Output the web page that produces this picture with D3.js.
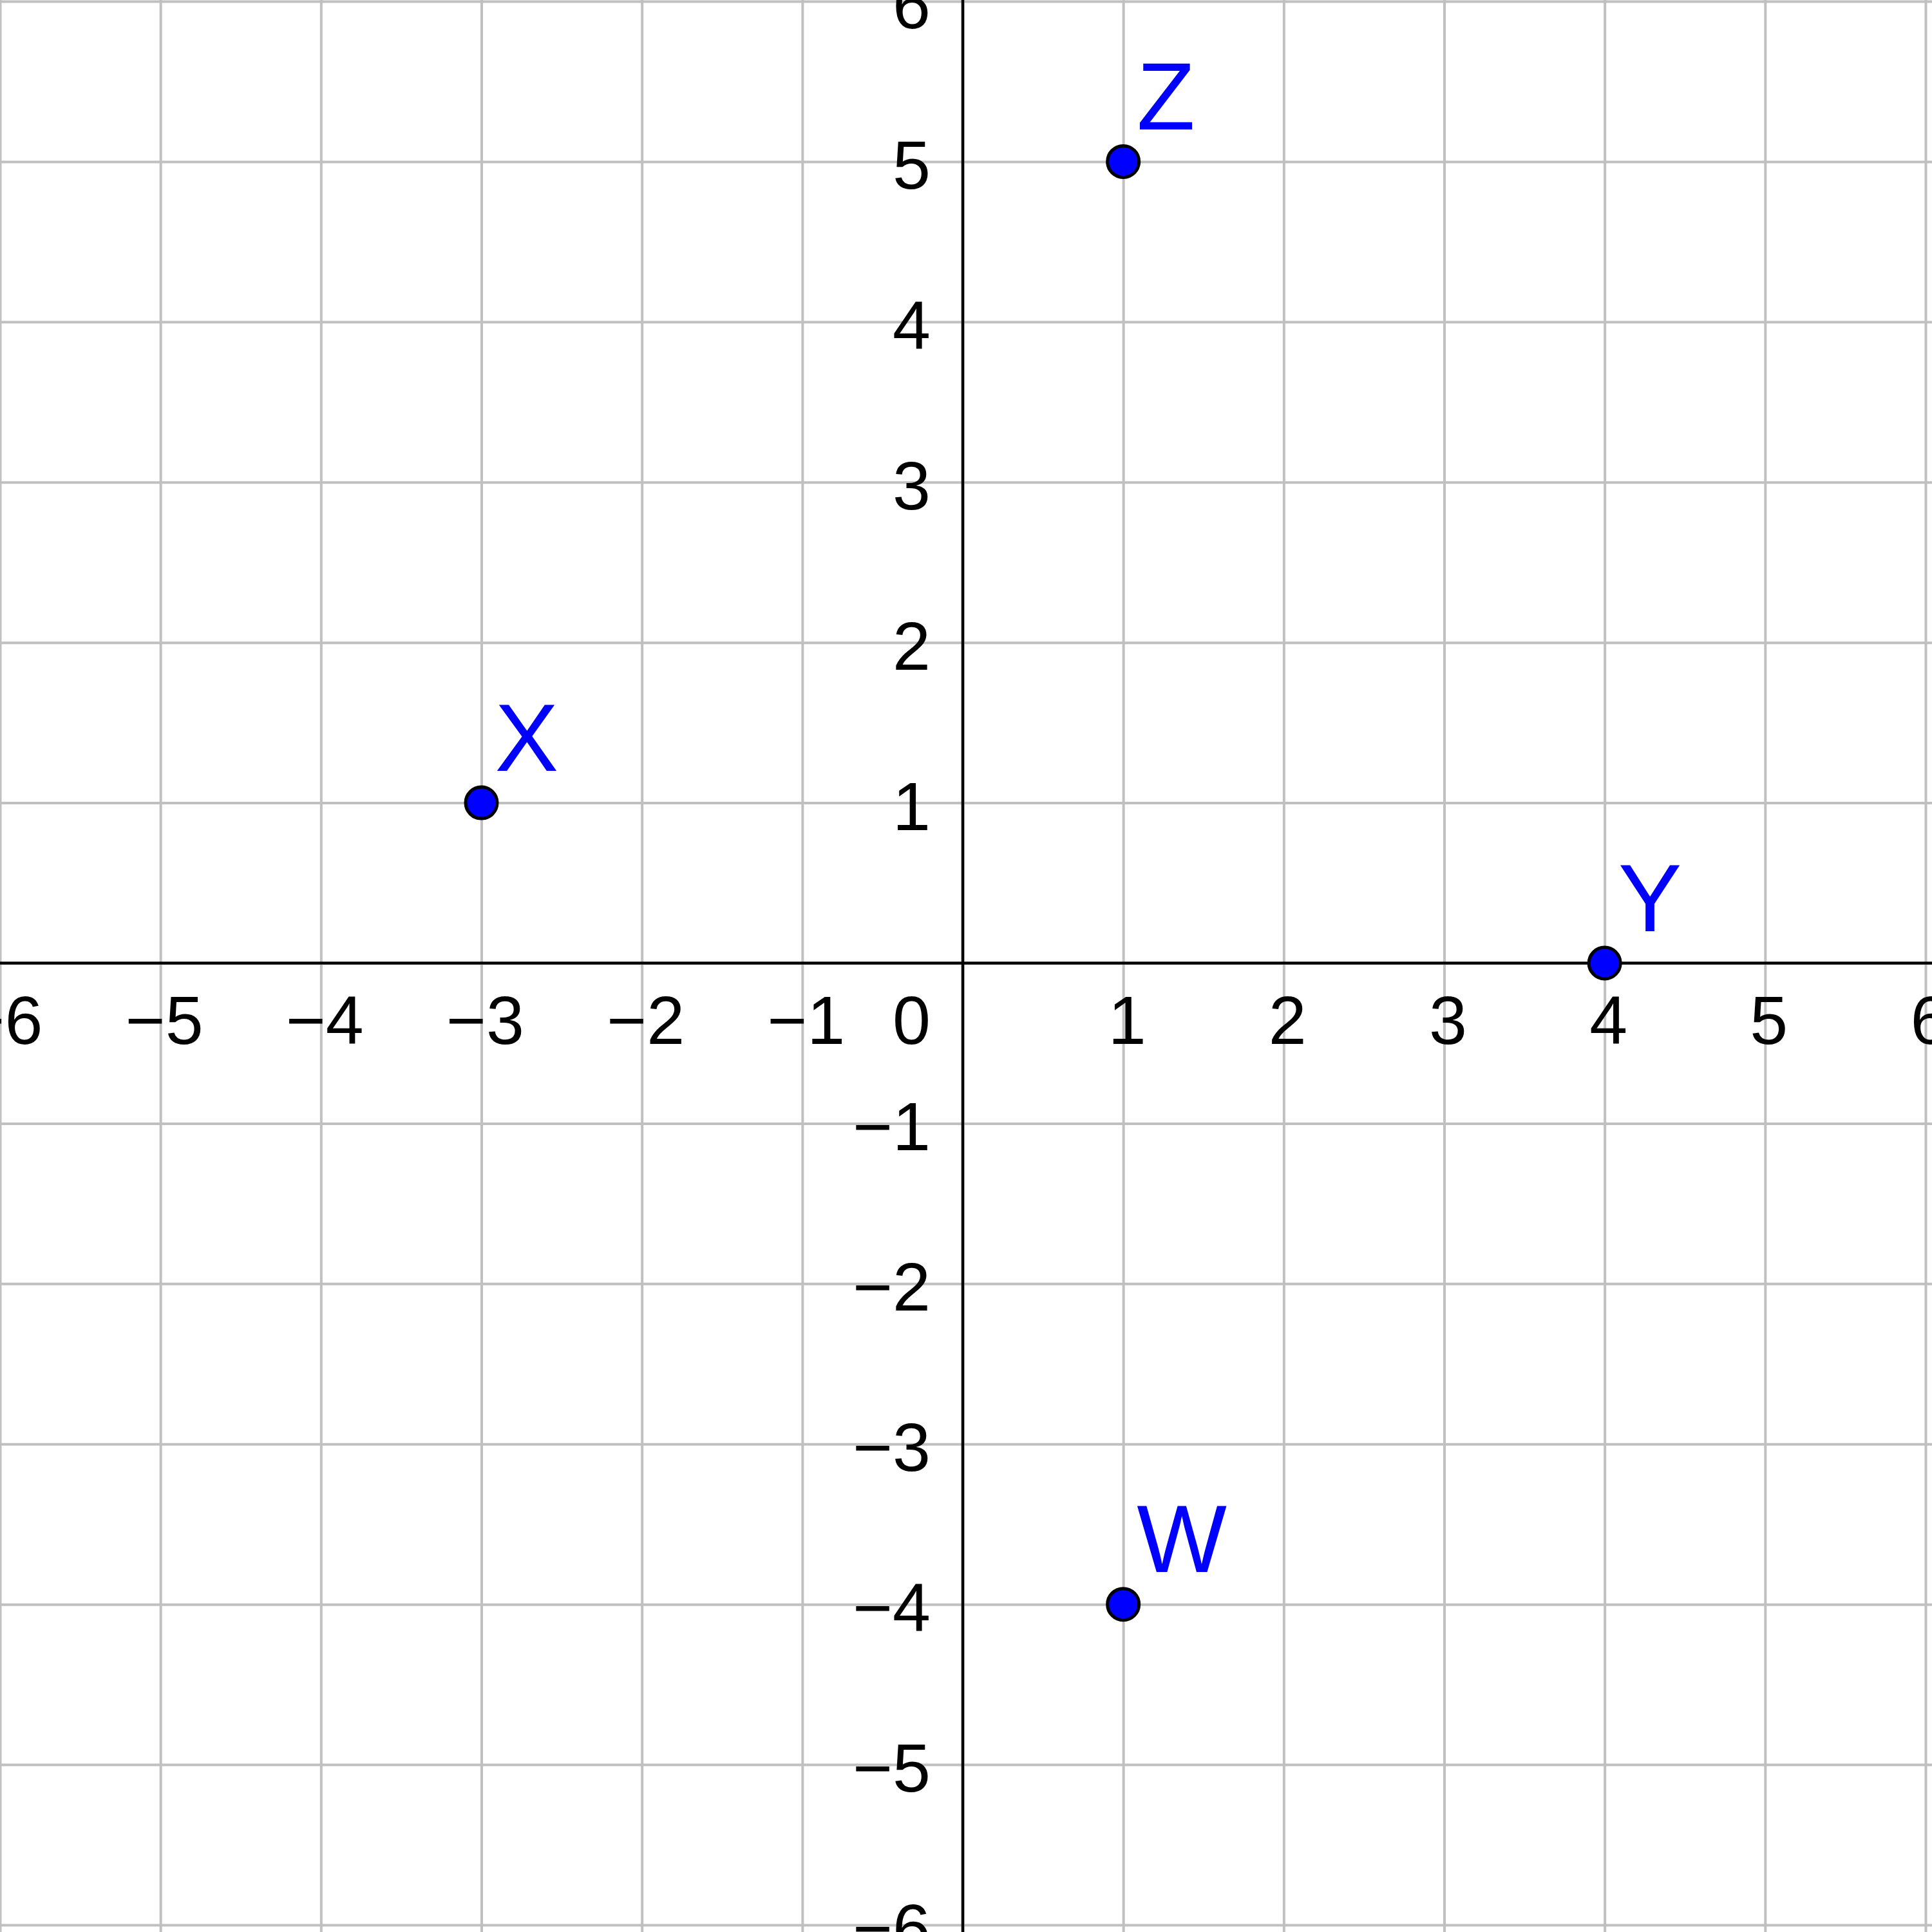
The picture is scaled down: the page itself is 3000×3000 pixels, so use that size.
<!DOCTYPE html>
<html>
<head>
<meta charset="utf-8">
<script src="https://cdn.jsdelivr.net/npm/d3@7"></script>
<style>
  body { margin: 0; background: #fff; }
  text { font-family: "Liberation Sans", Arial, sans-serif; }
</style>
</head>
<body>
<div id="chart"></div>
<script>
// values
let xTicks = [-6, -5, -4, -3, -2, -1, 1, 2, 3, 4, 5, 6];
let yTicks = [-6, -5, -4, -3, -2, -1, 1, 2, 3, 4, 5, 6];
let gridValues = [-6, -5, -4, -3, -2, -1, 0, 1, 2, 3, 4, 5, 6];
let pointNames = ["X", "Y", "Z", "W"];
let pointX = [-3, 4, 1, 1];
let pointY = [1, 0, 5, -4];

let width = 3000, height = 3000;

let svg = d3.select("#chart").append("svg")
    .attr("width", width)
    .attr("height", height);

svg.append("rect")
    .attr("width", width)
    .attr("height", height)
    .attr("fill", "#fff");

// Scales
let x = d3.scaleLinear().domain([-6, 6]).range([0, 2990]);
let y = d3.scaleLinear().domain([-6, 6]).range([2989, 2]);

let fmt = v => (v < 0 ? "\u2212" + Math.abs(v) : String(v));

// Grid, drawn with axes
let xGrid = d3.axisBottom(x).tickValues(gridValues).tickSize(height).tickFormat("");
let yGrid = d3.axisLeft(y).tickValues(gridValues).tickSize(-width).tickFormat("");

svg.append("g")
    .attr("class", "grid x-grid")
    .call(xGrid)
    .call(g => g.select(".domain").remove());
svg.append("g")
    .attr("class", "grid y-grid")
    .call(yGrid)
    .call(g => g.select(".domain").remove());
svg.selectAll(".grid line")
    .attr("stroke", "#c0c0c0")
    .attr("stroke-width", 4);

// Main axes
svg.append("line")
    .attr("x1", 0).attr("x2", width)
    .attr("y1", y(0)).attr("y2", y(0))
    .attr("stroke", "#000").attr("stroke-width", 4.5);
svg.append("line")
    .attr("x1", x(0)).attr("x2", x(0))
    .attr("y1", 0).attr("y2", height)
    .attr("stroke", "#000").attr("stroke-width", 4.5);

// Tick labels
svg.append("g").selectAll("text")
    .data(xTicks)
    .enter().append("text")
    .attr("x", d => x(d) + 6)
    .attr("y", y(0) + 125)
    .attr("text-anchor", "middle")
    .attr("font-size", 106)
    .attr("fill", "#000")
    .text(fmt);

svg.append("g").selectAll("text")
    .data(yTicks)
    .enter().append("text")
    .attr("x", x(0) - 50)
    .attr("y", d => y(d) + 42)
    .attr("text-anchor", "end")
    .attr("font-size", 106)
    .attr("fill", "#000")
    .text(fmt);

svg.append("text")
    .attr("x", x(0) - 50)
    .attr("y", y(0) + 125)
    .attr("text-anchor", "end")
    .attr("font-size", 106)
    .attr("fill", "#000")
    .text("0");

// Points
let points = pointNames.map((n, i) => ({name: n, x: pointX[i], y: pointY[i]}));

svg.append("g").selectAll("circle")
    .data(points)
    .enter().append("circle")
    .attr("cx", d => x(d.x))
    .attr("cy", d => y(d.y))
    .attr("r", 24.5)
    .attr("fill", "#0000ff")
    .attr("stroke", "#000")
    .attr("stroke-width", 5);

svg.append("g").selectAll("text")
    .data(points)
    .enter().append("text")
    .attr("x", d => x(d.x) + 21)
    .attr("y", d => y(d.y) - 50)
    .attr("font-size", 148)
    .attr("fill", "#0000ff")
    .text(d => d.name);
</script>
</body>
</html>
